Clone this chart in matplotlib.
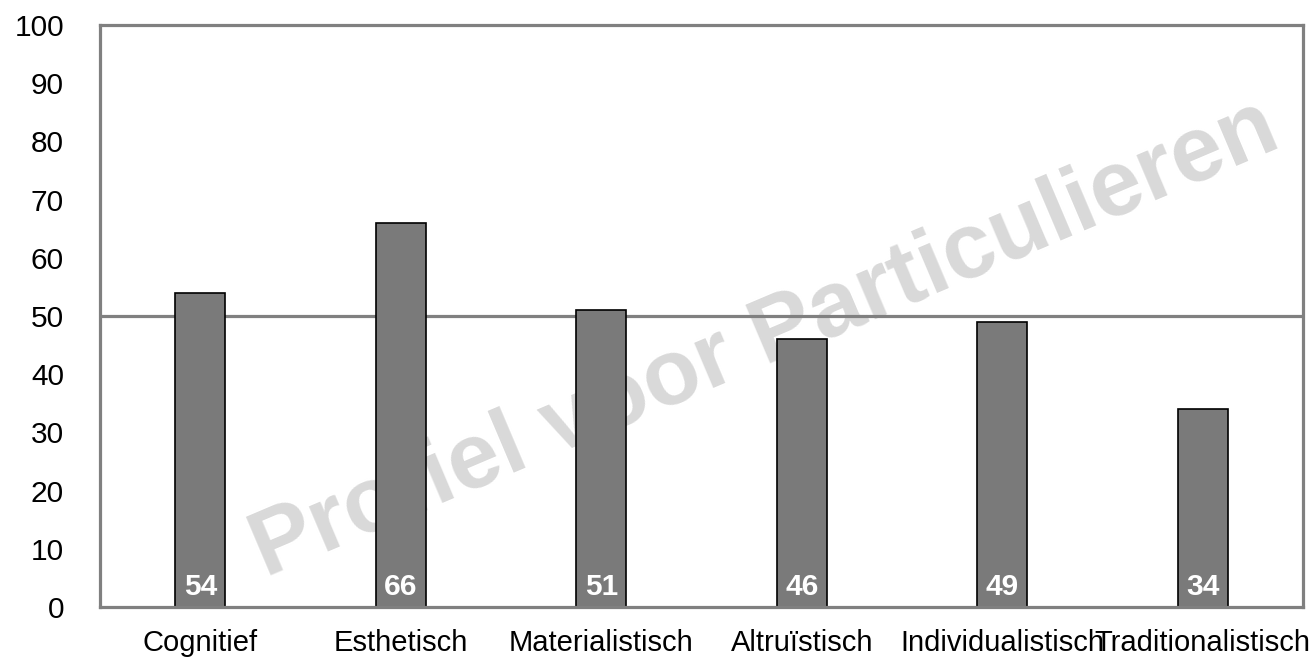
import matplotlib
matplotlib.use('Agg')
import matplotlib.pyplot as plt

# waarden per waarde-dimensie
categories = ["Cognitief", "Esthetisch", "Materialistisch", "Altruïstisch",
              "Individualistisch", "Traditionalistisch"]
scores = [54, 66, 51, 46, 49, 34]
yticks = [0, 10, 20, 30, 40, 50, 60, 70, 80, 90, 100]
norm_line = 50

plt.rcParams['font.family'] = ['Liberation Sans', 'DejaVu Sans']

fig = plt.figure(figsize=(13.1, 6.61), dpi=100)
ax = fig.add_axes([100/1310, 1 - 607/661, 1203/1310, 582/661])

xs = list(range(len(categories)))
ax.bar(xs, scores, width=0.25, color='#7a7a7a', edgecolor='black',
       linewidth=1.2, zorder=1)
ax.axhline(norm_line, color='#808080', linewidth=2.3, zorder=0.8)

for x, v in zip(xs, scores):
    ax.text(x, 3.4, str(v), ha='center', va='center', color='white',
            fontsize=21.5, fontweight='bold', zorder=3)

# watermerk
ax.text(765/1310, 1 - 340/661, "Profiel voor Particulieren",
        transform=fig.transFigure, rotation=23, rotation_mode='anchor',
        ha='center', va='center', fontsize=67, fontweight='bold',
        color='#d9d9d9', zorder=0.5)

ax.set_xlim(-0.5, len(categories) - 0.5)
ax.set_ylim(0, 100)
ax.set_yticks(yticks)
ax.set_xticks(xs)
ax.set_xticklabels(categories)
ax.tick_params(axis='y', length=0, pad=26, labelsize=21.5)
ax.tick_params(axis='x', length=0, pad=15.5, labelsize=21)
for s in ax.spines.values():
    s.set_color('#808080')
    s.set_linewidth(2.3)

plt.savefig('out.png', dpi=100)
